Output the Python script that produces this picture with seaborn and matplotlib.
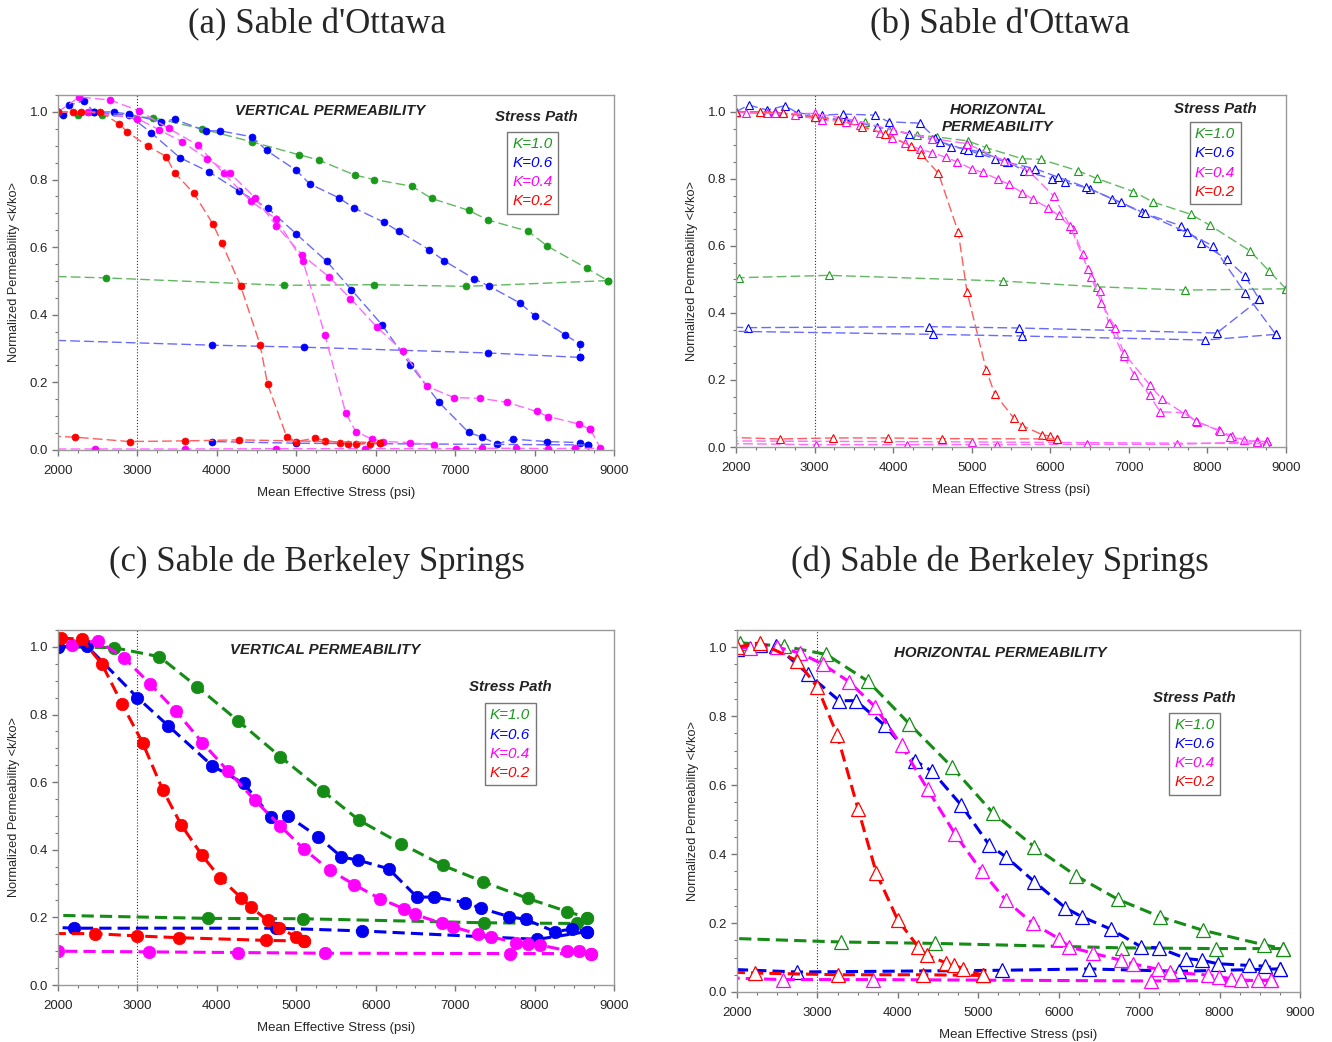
import matplotlib
matplotlib.use("Agg")
import matplotlib.pyplot as plt
import seaborn as sns
from matplotlib.lines import Line2D
from matplotlib.ticker import MultipleLocator, FormatStrFormatter

# ---------------- DATA ----------------
K_LABELS = ["K=1.0", "K=0.6", "K=0.4", "K=0.2"]
TITLES = ["(a) Sable d'Ottawa", "(b) Sable d'Ottawa",
          "(c) Sable de Berkeley Springs", "(d) Sable de Berkeley Springs"]
INNER = ["VERTICAL PERMEABILITY", "HORIZONTAL\nPERMEABILITY",
         "VERTICAL PERMEABILITY", "HORIZONTAL PERMEABILITY"]

# Panel (a)
A_G_LOAD_X = [2000, 2250, 2553, 3191, 3809, 4447, 5038, 5280, 5737, 5983, 6458, 6703, 7169, 7415, 7919, 8161, 8661, 8924]
A_G_LOAD_Y = [1.000, 0.990, 0.990, 0.983, 0.950, 0.911, 0.873, 0.858, 0.813, 0.800, 0.780, 0.744, 0.709, 0.680, 0.647, 0.603, 0.537, 0.501]
A_G_UNLD_X = [8924, 7136, 5975, 4851, 2604, 2000]
A_G_UNLD_Y = [0.501, 0.484, 0.489, 0.487, 0.509, 0.513]
A_B1_LOAD_X = [2000, 2060, 2140, 2332, 2447, 2702, 2894, 3298, 3468, 3860, 4043, 4447, 4626, 5000, 5170, 5534, 5725, 6102, 6288, 6669, 6860, 7241, 7432, 7814, 8004, 8386, 8568, 8568]
A_B1_LOAD_Y = [1.000, 0.990, 1.020, 1.033, 1.000, 1.000, 0.993, 0.971, 0.978, 0.944, 0.944, 0.926, 0.886, 0.827, 0.787, 0.746, 0.716, 0.674, 0.647, 0.593, 0.560, 0.506, 0.484, 0.435, 0.397, 0.341, 0.313, 0.274]
A_B1_UNLD_X = [8568, 7419, 5098, 3945, 2000]
A_B1_UNLD_Y = [0.274, 0.287, 0.304, 0.310, 0.324]
A_B2_LOAD_X = [2000, 2447, 2894, 3170, 3532, 3906, 4277, 4638, 5000, 5383, 5695, 6076, 6436, 6797, 7169, 7339, 7525, 7729, 8153, 8568, 8669]
A_B2_LOAD_Y = [1.000, 1.000, 0.990, 0.939, 0.865, 0.822, 0.766, 0.716, 0.639, 0.558, 0.474, 0.371, 0.252, 0.141, 0.052, 0.038, 0.018, 0.032, 0.025, 0.022, 0.015]
A_B2_UNLD_X = [8669, 5000, 3945]
A_B2_UNLD_Y = [0.015, 0.020, 0.025]
A_M1_LOAD_X = [2000, 2268, 2660, 3021, 3396, 3766, 4085, 4426, 4745, 5085, 5362, 5623, 5750, 5958, 6097, 6436, 6733]
A_M1_LOAD_Y = [1.000, 1.044, 1.035, 1.003, 0.951, 0.901, 0.818, 0.736, 0.684, 0.558, 0.339, 0.109, 0.054, 0.032, 0.025, 0.022, 0.015]
A_M2_LOAD_X = [2000, 2374, 3000, 3277, 3566, 3872, 4170, 4481, 4745, 5077, 5417, 5682, 6017, 6339, 6648, 6987, 7318, 7653, 8025, 8174, 8555, 8703]
A_M2_LOAD_Y = [1.000, 1.000, 0.980, 0.947, 0.911, 0.862, 0.818, 0.746, 0.664, 0.576, 0.511, 0.448, 0.363, 0.293, 0.188, 0.155, 0.153, 0.141, 0.114, 0.099, 0.077, 0.061]
A_M_UNLD_X = [8703, 8830, 8513, 8174, 7771, 7339, 7008, 5864, 4745, 3596, 2468, 2000]
A_M_UNLD_Y = [0.061, 0.005, 0.005, 0.004, 0.005, 0.005, 0.004, 0.004, 0.004, 0.003, 0.003, 0.003]
A_R_LOAD_X = [2000, 2191, 2289, 2532, 2766, 2872, 3128, 3362, 3468, 3711, 3949, 4064, 4298, 4545, 4638, 4881, 5000, 5234, 5362, 5547, 5653, 5746, 5928, 6055]
A_R_LOAD_Y = [1.000, 1.000, 1.000, 1.000, 0.965, 0.941, 0.899, 0.868, 0.820, 0.759, 0.669, 0.611, 0.486, 0.311, 0.195, 0.038, 0.025, 0.035, 0.028, 0.022, 0.018, 0.018, 0.018, 0.022]
A_R_UNLD_X = [6055, 4277, 3596, 2902, 2213, 2000]
A_R_UNLD_Y = [0.022, 0.030, 0.027, 0.025, 0.038, 0.040]

# Panel (b)
B_G_LOAD_X = [2000, 2300, 2600, 3000, 3300, 3645, 3950, 4300, 4556, 4949, 5184, 5640, 5881, 6352, 6593, 7059, 7305, 7792, 8034, 8542, 8784, 9000]
B_G_LOAD_Y = [1.000, 1.000, 0.995, 0.985, 0.975, 0.968, 0.945, 0.930, 0.925, 0.913, 0.893, 0.860, 0.858, 0.824, 0.801, 0.762, 0.731, 0.694, 0.661, 0.585, 0.525, 0.472]
B_G_UNLD_X = [9000, 7716, 6593, 5398, 3184, 2034]
B_G_UNLD_Y = [0.472, 0.468, 0.478, 0.495, 0.512, 0.505]
B_B1_LOAD_X = [2000, 2162, 2400, 2620, 2790, 3090, 3367, 3765, 3944, 4338, 4530, 4735, 4906, 5098, 5462, 5661, 6021, 6190, 6508, 6784, 7165, 7661, 7915, 8246, 8479, 8661]
B_B1_LOAD_Y = [1.000, 1.020, 1.005, 1.018, 0.996, 0.990, 0.993, 0.990, 0.970, 0.966, 0.923, 0.896, 0.890, 0.881, 0.851, 0.824, 0.800, 0.790, 0.770, 0.740, 0.700, 0.660, 0.610, 0.560, 0.510, 0.440]
B_B1_UNLD_X = [8661, 8119, 5598, 4457, 2150, 2000]
B_B1_UNLD_Y = [0.440, 0.340, 0.355, 0.359, 0.356, 0.357]
B_B2_LOAD_X = [2000, 2500, 3000, 3400, 3800, 4200, 4600, 4950, 5300, 5449, 5809, 6100, 6450, 6898, 7200, 7737, 8068, 8479, 8869]
B_B2_LOAD_Y = [1.000, 0.998, 0.985, 0.975, 0.955, 0.935, 0.910, 0.885, 0.860, 0.849, 0.830, 0.805, 0.775, 0.730, 0.697, 0.640, 0.600, 0.460, 0.336]
B_B2_UNLD_X = [8869, 7970, 5640, 4513, 2000]
B_B2_UNLD_Y = [0.336, 0.319, 0.331, 0.336, 0.345]
B_M1_LOAD_X = [2000, 2128, 2400, 2750, 3100, 3400, 3581, 3829, 3987, 4145, 4342, 4500, 4671, 4812, 5004, 5141, 5333, 5470, 5640, 5780, 5966, 6106, 6288, 6415, 6517, 6627, 6742, 6932, 7068, 7263, 7398, 7716, 7864, 8153, 8309, 8466, 8636, 8754]
B_M1_LOAD_Y = [1.000, 0.996, 0.995, 0.990, 0.975, 0.970, 0.960, 0.938, 0.923, 0.906, 0.888, 0.878, 0.864, 0.851, 0.829, 0.819, 0.799, 0.784, 0.759, 0.739, 0.714, 0.691, 0.649, 0.575, 0.508, 0.465, 0.371, 0.271, 0.216, 0.154, 0.105, 0.102, 0.075, 0.050, 0.032, 0.022, 0.017, 0.017]
B_M2_LOAD_X = [2000, 2500, 3000, 3500, 4000, 4500, 4940, 5407, 5725, 6042, 6250, 6480, 6650, 6826, 6932, 7263, 7419, 7856, 8161, 8288, 8627, 8746]
B_M2_LOAD_Y = [1.000, 0.995, 0.995, 0.975, 0.945, 0.920, 0.905, 0.854, 0.824, 0.749, 0.660, 0.530, 0.430, 0.356, 0.281, 0.186, 0.143, 0.077, 0.047, 0.030, 0.015, 0.010]
B_M1_UNLD_X = [8754, 7610, 6466, 5325, 4171, 3017, 2000]
B_M1_UNLD_Y = [0.017, 0.008, 0.008, 0.007, 0.007, 0.007, 0.010]
B_M2_UNLD_X = [8746, 5000, 2000]
B_M2_UNLD_Y = [0.010, 0.015, 0.018]
B_R_LOAD_X = [2000, 2300, 2600, 3000, 3300, 3600, 3900, 4222, 4359, 4577, 4829, 4940, 5184, 5291, 5534, 5640, 5894, 6000, 6085]
B_R_LOAD_Y = [1.000, 1.000, 0.995, 0.985, 0.975, 0.955, 0.935, 0.898, 0.873, 0.816, 0.641, 0.463, 0.231, 0.159, 0.087, 0.064, 0.037, 0.032, 0.024]
B_R_UNLD_X = [6085, 4620, 3932, 3239, 2564, 2000]
B_R_UNLD_Y = [0.024, 0.025, 0.027, 0.027, 0.024, 0.028]

# Panel (c)
C_G_LOAD_X = [2000, 2702, 3277, 3753, 4268, 4800, 5332, 5793, 6321, 6846, 7357, 7915, 8414, 8664]
C_G_LOAD_Y = [1.000, 0.998, 0.971, 0.882, 0.781, 0.675, 0.574, 0.487, 0.418, 0.354, 0.305, 0.256, 0.217, 0.199]
C_G_UNLD_X = [8664, 8529, 7366, 5085, 3894, 2000]
C_G_UNLD_Y = [0.199, 0.182, 0.184, 0.196, 0.197, 0.206]
C_B_LOAD_X = [2000, 2362, 3000, 3391, 3945, 4340, 4681, 4894, 5270, 5569, 5780, 6161, 6520, 6732, 7125, 7323, 7683, 7886, 8254, 8465, 8664]
C_B_LOAD_Y = [1.000, 1.003, 0.850, 0.766, 0.648, 0.596, 0.497, 0.500, 0.439, 0.379, 0.369, 0.344, 0.260, 0.260, 0.244, 0.227, 0.202, 0.194, 0.158, 0.165, 0.158]
C_B_UNLD_X = [8664, 8034, 5822, 4745, 2204, 2000]
C_B_UNLD_Y = [0.158, 0.135, 0.160, 0.168, 0.168, 0.170]
C_M_LOAD_X = [2170, 2498, 2830, 3162, 3489, 3817, 4140, 4477, 4800, 5100, 5420, 5729, 6055, 6351, 6490, 6837, 6977, 7294, 7450, 7767, 7915, 8072, 8402, 8562, 8706]
C_M_LOAD_Y = [1.006, 1.018, 0.968, 0.890, 0.809, 0.717, 0.633, 0.547, 0.470, 0.401, 0.340, 0.297, 0.255, 0.226, 0.209, 0.182, 0.172, 0.150, 0.143, 0.125, 0.120, 0.118, 0.102, 0.100, 0.093]
C_M_UNLD_X = [8706, 7691, 5357, 4264, 3140, 2000]
C_M_UNLD_Y = [0.093, 0.093, 0.094, 0.096, 0.098, 0.100]
C_R_LOAD_X = [2043, 2298, 2553, 2809, 3064, 3319, 3553, 3809, 4043, 4306, 4426, 4638, 4779, 5000, 5098]
C_R_LOAD_Y = [1.026, 1.023, 0.949, 0.830, 0.717, 0.577, 0.473, 0.385, 0.316, 0.258, 0.231, 0.191, 0.170, 0.142, 0.130]
C_R_UNLD_X = [5098, 4617, 3519, 3000, 2460, 2000]
C_R_UNLD_Y = [0.130, 0.132, 0.140, 0.145, 0.152, 0.152]

# Panel (d)
D_G_LOAD_X = [2033, 2585, 3112, 3631, 4141, 4668, 5187, 5697, 6216, 6734, 7261, 7793, 8548, 8788]
D_G_LOAD_Y = [1.013, 1.003, 0.979, 0.901, 0.778, 0.654, 0.518, 0.421, 0.337, 0.269, 0.218, 0.179, 0.137, 0.126]
D_G_UNLD_X = [8788, 7950, 6788, 4461, 3299, 2000]
D_G_UNLD_Y = [0.126, 0.126, 0.128, 0.141, 0.145, 0.155]
D_B_LOAD_X = [2000, 2290, 2490, 2884, 3270, 3477, 3838, 4212, 4427, 4784, 5137, 5344, 5697, 6083, 6290, 6651, 7025, 7245, 7585, 7784, 7979, 8365, 8560, 8747]
D_B_LOAD_Y = [0.996, 1.006, 1.003, 0.922, 0.845, 0.845, 0.773, 0.671, 0.640, 0.543, 0.426, 0.392, 0.320, 0.244, 0.218, 0.182, 0.131, 0.128, 0.097, 0.092, 0.082, 0.077, 0.075, 0.067]
D_B_UNLD_X = [8747, 7494, 6373, 5290, 2747, 2000]
D_B_UNLD_Y = [0.067, 0.060, 0.067, 0.063, 0.058, 0.065]
D_M_LOAD_X = [2000, 2158, 2500, 2788, 3071, 3394, 3714, 4046, 4369, 4714, 5041, 5344, 5676, 6000, 6133, 6432, 6776, 6921, 7232, 7378, 7855, 7992, 8145, 8270, 8477, 8643]
D_M_LOAD_Y = [1.000, 0.998, 1.000, 0.983, 0.950, 0.900, 0.828, 0.715, 0.588, 0.457, 0.351, 0.266, 0.199, 0.155, 0.131, 0.112, 0.092, 0.082, 0.066, 0.058, 0.049, 0.044, 0.039, 0.034, 0.034, 0.034]
D_M_UNLD_X = [8643, 7149, 3693, 2573, 2000]
D_M_UNLD_Y = [0.034, 0.032, 0.036, 0.036, 0.040]
D_R_LOAD_X = [2000, 2282, 2747, 3000, 3245, 3506, 3734, 3996, 4253, 4357, 4593, 4701, 4805, 5062]
D_R_LOAD_Y = [1.000, 1.013, 0.961, 0.884, 0.746, 0.530, 0.344, 0.210, 0.131, 0.107, 0.085, 0.078, 0.068, 0.048]
D_R_UNLD_X = [5062, 4315, 3257, 2220, 2000]
D_R_UNLD_Y = [0.048, 0.050, 0.050, 0.055, 0.057]

# ---------------- STYLE ----------------
sns.set_style("ticks")
plt.rcParams["font.family"] = ["Liberation Sans", "DejaVu Sans"]

GREEN, BLUE, MAG, RED = "#1a9a1a", "#0000ff", "#ff00ff", "#ff0000"
LIGHT = {GREEN: "#62b862", BLUE: "#6a6aff", MAG: "#ff6aff", RED: "#ff5c5c"}
DARK = {GREEN: "#158c15", BLUE: "#0000ee", MAG: "#ff00ff", RED: "#ff0000"}
LEG_COLORS = [GREEN, BLUE, MAG, RED]

W, H = 1332, 1042
fig = plt.figure(figsize=(W / 100, H / 100), dpi=100)


def make_ax(l, r, t, b):
    return fig.add_axes([l / W, 1 - b / H, (r - l) / W, (b - t) / H])


axA = make_ax(58, 614, 95, 450)
axB = make_ax(736, 1286, 95, 447)
axC = make_ax(58, 614, 630, 985)
axD = make_ax(737, 1300, 630, 992)


def draw(ax, xs, ys, color, kind, edge=False):
    if kind == "a":
        lc, mk, ms, lw, dash, face, mew = LIGHT[color], "o", 5, 1.0, (7, 3), color, 0.5
    elif kind == "b":
        lc, mk, ms, lw, dash, face, mew = LIGHT[color], "^", 6, 1.0, (7, 3), "white", 0.8
    elif kind == "c":
        lc, mk, ms, lw, dash, face, mew = DARK[color], "o", 9, 2.2, (4, 2), DARK[color], 0.5
    else:
        lc, mk, ms, lw, dash, face, mew = DARK[color], "^", 10, 2.2, (4, 2), "white", 0.9
    me = slice(0, len(xs) - 1) if edge else None
    ec = color if kind in ("a", "b") else DARK[color]
    sns.lineplot(x=xs, y=ys, ax=ax, sort=False, estimator=None, color=lc,
                 linewidth=lw, linestyle=(0, dash), marker=mk, markersize=ms,
                 markerfacecolor=face, markeredgecolor=ec, markeredgewidth=mew,
                 markevery=me)


# panel a
draw(axA, A_G_LOAD_X, A_G_LOAD_Y, GREEN, "a")
draw(axA, A_G_UNLD_X, A_G_UNLD_Y, GREEN, "a", edge=True)
draw(axA, A_B1_LOAD_X, A_B1_LOAD_Y, BLUE, "a")
draw(axA, A_B1_UNLD_X, A_B1_UNLD_Y, BLUE, "a", edge=True)
draw(axA, A_B2_LOAD_X, A_B2_LOAD_Y, BLUE, "a")
draw(axA, A_B2_UNLD_X, A_B2_UNLD_Y, BLUE, "a")
draw(axA, A_M1_LOAD_X, A_M1_LOAD_Y, MAG, "a")
draw(axA, A_M2_LOAD_X, A_M2_LOAD_Y, MAG, "a")
draw(axA, A_M_UNLD_X, A_M_UNLD_Y, MAG, "a", edge=True)
draw(axA, A_R_LOAD_X, A_R_LOAD_Y, RED, "a")
draw(axA, A_R_UNLD_X, A_R_UNLD_Y, RED, "a", edge=True)

# panel b
draw(axB, B_G_LOAD_X, B_G_LOAD_Y, GREEN, "b")
draw(axB, B_G_UNLD_X, B_G_UNLD_Y, GREEN, "b")
draw(axB, B_B1_LOAD_X, B_B1_LOAD_Y, BLUE, "b")
draw(axB, B_B1_UNLD_X, B_B1_UNLD_Y, BLUE, "b", edge=True)
draw(axB, B_B2_LOAD_X, B_B2_LOAD_Y, BLUE, "b")
draw(axB, B_B2_UNLD_X, B_B2_UNLD_Y, BLUE, "b", edge=True)
draw(axB, B_M1_LOAD_X, B_M1_LOAD_Y, MAG, "b")
draw(axB, B_M2_LOAD_X, B_M2_LOAD_Y, MAG, "b")
draw(axB, B_M1_UNLD_X, B_M1_UNLD_Y, MAG, "b", edge=True)
draw(axB, B_M2_UNLD_X, B_M2_UNLD_Y, MAG, "b", edge=True)
draw(axB, B_R_LOAD_X, B_R_LOAD_Y, RED, "b")
draw(axB, B_R_UNLD_X, B_R_UNLD_Y, RED, "b", edge=True)

# panel c
draw(axC, C_G_UNLD_X, C_G_UNLD_Y, GREEN, "c", edge=True)
draw(axC, C_B_UNLD_X, C_B_UNLD_Y, BLUE, "c", edge=True)
draw(axC, C_M_UNLD_X, C_M_UNLD_Y, MAG, "c")
draw(axC, C_R_UNLD_X, C_R_UNLD_Y, RED, "c", edge=True)
draw(axC, C_G_LOAD_X, C_G_LOAD_Y, GREEN, "c")
draw(axC, C_B_LOAD_X, C_B_LOAD_Y, BLUE, "c")
draw(axC, C_M_LOAD_X, C_M_LOAD_Y, MAG, "c")
draw(axC, C_R_LOAD_X, C_R_LOAD_Y, RED, "c")

# panel d
draw(axD, D_G_UNLD_X, D_G_UNLD_Y, GREEN, "d", edge=True)
draw(axD, D_B_UNLD_X, D_B_UNLD_Y, BLUE, "d", edge=True)
draw(axD, D_M_UNLD_X, D_M_UNLD_Y, MAG, "d", edge=True)
draw(axD, D_R_UNLD_X, D_R_UNLD_Y, RED, "d", edge=True)
draw(axD, D_G_LOAD_X, D_G_LOAD_Y, GREEN, "d")
draw(axD, D_B_LOAD_X, D_B_LOAD_Y, BLUE, "d")
draw(axD, D_M_LOAD_X, D_M_LOAD_Y, MAG, "d")
draw(axD, D_R_LOAD_X, D_R_LOAD_Y, RED, "d")

# annotation positions (axes fraction)
inner_pos = [(0.489, 0.955), (0.476, 0.933), (0.48, 0.944), (0.467, 0.936)]
sp_pos = [(0.86, 0.938), (0.871, 0.96), (0.813, 0.839), (0.813, 0.812)]
leg_pos = [(0.854, 0.896), (0.871, 0.923), (0.813, 0.794), (0.813, 0.771)]
title_pos = [(317, 25), (1000, 25), (317, 562), (1000, 562)]

for i, ax in enumerate([axA, axB, axC, axD]):
    ax.set_xlim(2000, 9000)
    ax.set_ylim(0, 1.05)
    ax.xaxis.set_major_locator(MultipleLocator(1000))
    ax.xaxis.set_minor_locator(MultipleLocator(250))
    ax.yaxis.set_major_locator(MultipleLocator(0.2))
    ax.yaxis.set_minor_locator(MultipleLocator(0.05))
    ax.yaxis.set_major_formatter(FormatStrFormatter("%.1f"))
    ax.tick_params(which="major", length=4, width=1, color="#777777", labelsize=9.5, pad=3)
    ax.tick_params(axis="x", which="major", pad=7)
    ax.tick_params(which="minor", length=2.5, width=0.8, color="#777777")
    for s in ax.spines.values():
        s.set_visible(True)
        s.set_color("#9a9a9a")
        s.set_linewidth(1.0)
    ax.axvline(3000, color="#333333", linestyle=":", linewidth=0.8, zorder=0)
    ax.set_xlabel("Mean Effective Stress (psi)", fontsize=9.5, labelpad=7)
    ax.set_ylabel("Normalized Permeability <k/ko>", fontsize=9.2, labelpad=7)
    ax.text(*inner_pos[i], INNER[i], transform=ax.transAxes, ha="center", va="center",
            fontsize=10.8, fontweight="bold", fontstyle="italic", color="#222222",
            linespacing=1.3)
    ax.text(*sp_pos[i], "Stress Path", transform=ax.transAxes, ha="center", va="center",
            fontsize=10.8, fontweight="bold", fontstyle="italic", color="#222222")
    handles = [Line2D([], [], color="none") for _ in K_LABELS]
    leg = ax.legend(handles, K_LABELS, loc="upper center", bbox_to_anchor=leg_pos[i],
                    handlelength=0, handletextpad=0, borderpad=0.35, labelspacing=0.33,
                    frameon=True, fancybox=False, framealpha=1, edgecolor="#777777",
                    prop={"style": "italic", "size": 11}, labelcolor=LEG_COLORS,
                    borderaxespad=0)
    leg.get_frame().set_linewidth(1.0)
    fig.text(title_pos[i][0] / W, 1 - title_pos[i][1] / H, TITLES[i],
             ha="center", va="center", fontsize=25, family="Liberation Serif")

fig.savefig("out.png", dpi=100)
